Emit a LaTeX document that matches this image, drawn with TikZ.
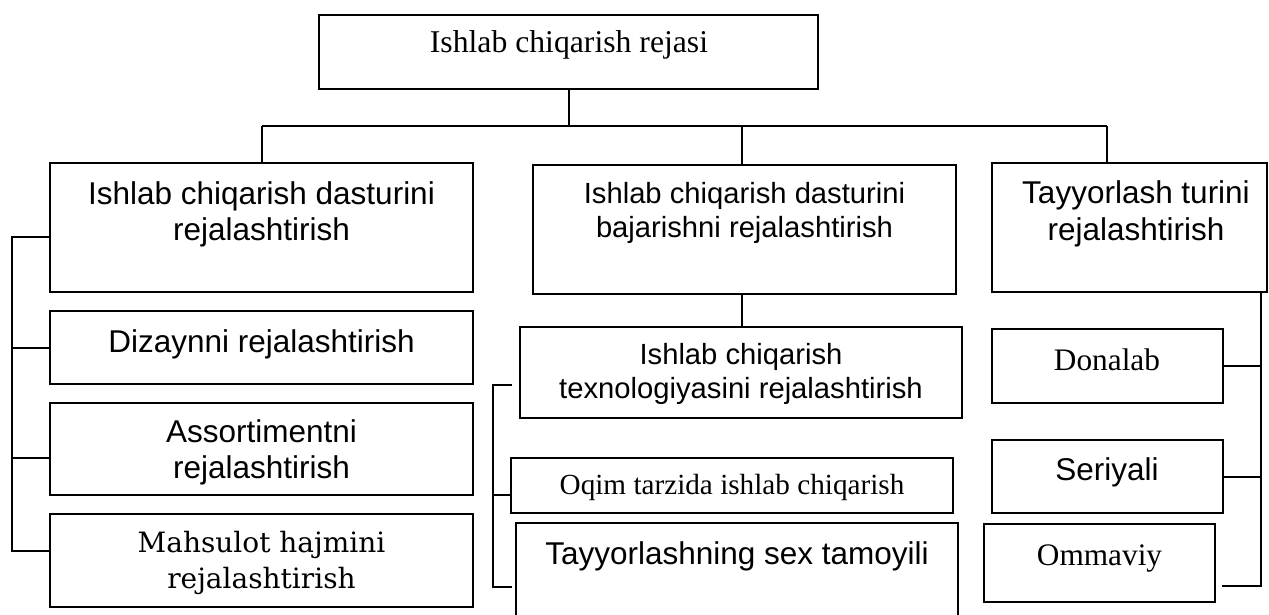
\documentclass[tikz,border=0pt]{standalone}
\usepackage{fontspec}
\setmainfont{Liberation Serif}
\setsansfont{Liberation Sans}
\newfontfamily\mahfont{DejaVu Serif}
\newcommand\arialL{\sffamily\fontsize{31.5}{36}\selectfont}
\newcommand\arialLL{\sffamily\fontsize{31.5}{37}\selectfont}
\newcommand\arialM{\sffamily\fontsize{29.2}{34}\selectfont}
\newcommand\timesL{\rmfamily\fontsize{31.7}{36}\selectfont}
\newcommand\timesD{\rmfamily\fontsize{31.3}{36}\selectfont}
\newcommand\timesM{\rmfamily\fontsize{29.2}{34}\selectfont}
\newcommand\mahF{\mahfont\fontsize{28}{36}\selectfont}
\newcommand\mybox[5]{\node[boxst,minimum width={#4-#2},minimum height={#5-#3}] (#1) at ({(#2+#4)/2},{(#3+#5)/2}) {};}
\begin{document}
\begin{tikzpicture}[x=1pt,y=-1pt,
  boxst/.style={draw=black,line width=2pt,inner sep=0pt,outer sep=0pt,fill=none},
  tx/.style={inner sep=0pt,align=center,anchor=north,text=black},
  conn/.style={draw=black,line width=2pt}]
\path[fill=white,use as bounding box] (0,0) rectangle (1269,614);
% boxes
\mybox{top}{319}{15}{818}{89}
\mybox{b1}{50}{163}{473}{292}
\mybox{b2}{533}{165}{956}{294}
\mybox{b3}{992}{163}{1267}{292}
\mybox{diz}{50}{311}{473}{384}
\mybox{ass}{50}{403}{473}{495}
\mybox{mah}{50}{514}{473}{607}
\mybox{tech}{520}{327}{962}{418}
\mybox{oqim}{511}{458}{953}{513}
\mybox{sex}{516}{523}{958}{660}
\mybox{don}{992}{329}{1223}{403}
\mybox{ser}{992}{440}{1223}{513}
\mybox{omm}{984}{524}{1215}{602}
% texts
\node[tx,font=\timesL] (ttop) at (569,26.8) {\strut Ishlab chiqarish rejasi};
\node[tx,font=\arialL] (tb1) at (261.5,178.8) {\strut Ishlab chiqarish dasturini\\rejalashtirish};
\node[tx,font=\arialM] (tb2) at (744.5,179.2) {\strut Ishlab chiqarish dasturini\\bajarishni rejalashtirish};
\node[tx,font=\arialLL] (tb3) at (1136,177.1) {\strut Tayyorlash turini\\rejalashtirish};
\node[tx,font=\arialL] (tdiz) at (261.5,326.8) {\strut Dizaynni rejalashtirish};
\node[tx,font=\arialL] (tass) at (261.5,416.8) {\strut Assortimentni\\rejalashtirish};
\node[tx,font=\mahF] (tmah) at (261.5,526.8) {\strut Mahsulot hajmini\\rejalashtirish};
\node[tx,font=\arialM] (ttech) at (741,340.2) {\strut Ishlab chiqarish\\texnologiyasini rejalashtirish};
\node[tx,font=\timesM] (toqim) at (732,470.2) {\strut Oqim tarzida ishlab chiqarish};
\node[tx,font=\arialL] (tsex) at (737,538.8) {\strut Tayyorlashning sex tamoyili};
\node[tx,font=\timesD] (tdon) at (1107,344.8) {\strut Donalab};
\node[tx,font=\arialL] (tser) at (1107,454.8) {\strut Seriyali};
\node[tx,font=\timesD] (tomm) at (1099.5,539.8) {\strut Ommaviy};
% bus
\coordinate (busL) at (262,126);
\coordinate (busM) at (742,126);
\coordinate (busR) at (1107,126);
\draw[conn] (top.south) -- (top.south |- busL);
\draw[conn] (busL) -- (busR);
\draw[conn] (busL) -- (busL |- b1.north);
\draw[conn] (busM) -- (busM |- b2.north);
\draw[conn] (busR) -- (busR |- b3.north);
% left bracket
\coordinate (L1) at (12,237);
\coordinate (L3) at (12,458);
\coordinate (L4) at (12,551);
\draw[conn] (b1.west |- L1) -- (L1) -- (L4) -- (mah.west |- L4);
\draw[conn] (diz.west) -- (diz.west -| L1);
\draw[conn] (L3) -- (ass.west |- L3);
% middle
\draw[conn] (b2.south -| busM) -- (tech.north -| busM);
\coordinate (M1) at (493,385);
\coordinate (M1e) at (512,385);
\coordinate (M2) at (493,495);
\coordinate (M3) at (493,587);
\coordinate (M3e) at (512,587);
\draw[conn] (M1e) -- (M1) -- (M3) -- (M3e);
\draw[conn] (M2) -- (oqim.west |- M2);
% right
\coordinate (R3) at (1261,586);
\coordinate (R3e) at (1222,586);
\draw[conn] (b3.south -| R3) -- (R3) -- (R3e);
\draw[conn] (don.east) -- (don.east -| R3);
\draw[conn] (ser.east) -- (ser.east -| R3);
\end{tikzpicture}
\end{document}
